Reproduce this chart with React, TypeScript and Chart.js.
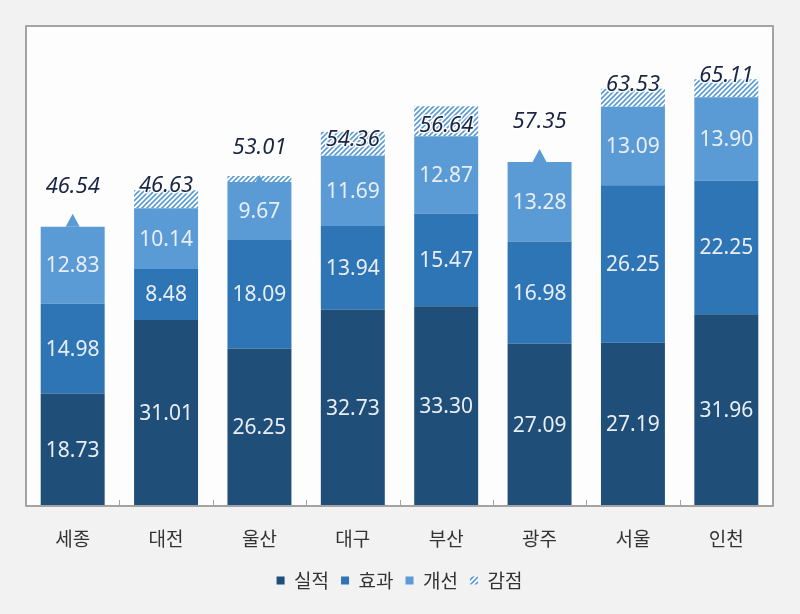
import React, { useEffect, useRef } from 'react';
import { Chart, registerables } from 'chart.js';

Chart.register(...registerables);

const categories = ['세종', '대전', '울산', '대구', '부산', '광주', '서울', '인천'];
const seriesNames = ['실적', '효과', '개선', '감점'];
const actual = [18.73, 31.01, 26.25, 32.73, 33.3, 27.09, 27.19, 31.96];
const effect = [14.98, 8.48, 18.09, 13.94, 15.47, 16.98, 26.25, 22.25];
const improve = [12.83, 10.14, 9.67, 11.69, 12.87, 13.28, 13.09, 13.9];
const deduction = [0, 3.0, 1.0, 4.0, 5.0, 0, 3.0, 3.0];
const totals = [46.54, 46.63, 53.01, 54.36, 56.64, 57.35, 63.53, 65.11];

const COLORS = ['#1f4e79', '#2e75b6', '#5b9bd5'];

function makeHatch(): CanvasPattern | string {
  const s = 5;
  const c = document.createElement('canvas');
  c.width = s;
  c.height = s;
  const g = c.getContext('2d');
  if (!g) return '#5b9bd5';
  g.fillStyle = '#ffffff';
  g.fillRect(0, 0, s, s);
  g.strokeStyle = '#5b9bd5';
  g.lineWidth = 1.6;
  g.beginPath();
  g.moveTo(-1, s + 1);
  g.lineTo(s + 1, -1);
  g.moveTo(-1, 1);
  g.lineTo(1, -1);
  g.moveTo(s - 1, s + 1);
  g.lineTo(s + 1, s - 1);
  g.stroke();
  return g.createPattern(c, 'repeat') || '#5b9bd5';
}

const overlay = {
  id: 'overlay',
  beforeDatasetsDraw(chart: any) {
    const { ctx, chartArea: a } = chart;
    ctx.save();
    ctx.fillStyle = '#fdfdfd';
    ctx.fillRect(a.left, a.top, a.right - a.left, a.bottom - a.top);
    ctx.restore();
  },
  afterDatasetsDraw(chart: any) {
    const { ctx, chartArea: a } = chart;
    const y = chart.scales.y;
    const meta0 = chart.getDatasetMeta(0);
    ctx.save();
    // triangles
    ctx.fillStyle = '#5b9bd5';
    totals.forEach((t, i) => {
      const el = meta0.data[i];
      const py = y.getPixelForValue(t);
      ctx.beginPath();
      ctx.moveTo(el.x - 7, py);
      ctx.lineTo(el.x, py - 13);
      ctx.lineTo(el.x + 7, py);
      ctx.closePath();
      ctx.fill();
    });
    // segment labels
    ctx.font = '21px "Noto Sans", "DejaVu Sans", sans-serif';
    ctx.textAlign = 'center';
    ctx.textBaseline = 'middle';
    ctx.fillStyle = '#e9eef5';
    [0, 1, 2].forEach((di) => {
      const meta = chart.getDatasetMeta(di);
      const vals = chart.data.datasets[di].data as number[];
      meta.data.forEach((el: any, i: number) => {
        const cy = (el.y + el.base) / 2;
        ctx.fillText(vals[i].toFixed(2), el.x, cy + 1);
      });
    });
    // total labels
    ctx.font = 'italic 22px "Noto Sans", "DejaVu Sans", sans-serif';
    ctx.lineJoin = 'round';
    totals.forEach((t, i) => {
      const el = meta0.data[i];
      const py = y.getPixelForValue(t) - 40;
      ctx.strokeStyle = 'rgba(255,255,255,0.9)';
      ctx.lineWidth = 3;
      ctx.strokeText(t.toFixed(2), el.x, py);
      ctx.fillStyle = '#1a2744';
      ctx.fillText(t.toFixed(2), el.x, py);
    });
    // frame
    ctx.strokeStyle = '#a3a3a3';
    ctx.lineWidth = 2;
    ctx.strokeRect(a.left, a.top, a.right - a.left, a.bottom - a.top);
    // tick marks
    ctx.lineWidth = 1;
    ctx.strokeStyle = '#a3a3a3';
    const n = categories.length;
    const w = (a.right - a.left) / n;
    for (let i = 1; i < n; i++) {
      const x = Math.round(a.left + i * w) + 0.5;
      ctx.beginPath();
      ctx.moveTo(x, a.bottom);
      ctx.lineTo(x, a.bottom - 6);
      ctx.stroke();
    }
    ctx.restore();
  },
};

export default function App() {
  const ref = useRef<HTMLCanvasElement | null>(null);
  useEffect(() => {
    document.body.style.margin = '0';
    document.body.style.background = '#f2f2f2';
    if (!ref.current) return;
    const hatch = makeHatch();
    const chart = new Chart(ref.current, {
      type: 'bar',
      data: {
        labels: categories,
        datasets: [
          { label: seriesNames[0], data: actual, backgroundColor: COLORS[0] },
          { label: seriesNames[1], data: effect, backgroundColor: COLORS[1] },
          { label: seriesNames[2], data: improve, backgroundColor: COLORS[2] },
          { label: seriesNames[3], data: deduction, backgroundColor: hatch as any },
        ].map((d) => ({ ...d, borderWidth: 0, barPercentage: 0.685, categoryPercentage: 1 })),
      },
      options: {
        responsive: false,
        animation: false,
        devicePixelRatio: 1,
        layout: { padding: { left: 26, right: 27, top: 26, bottom: 14 } },
        plugins: {
          tooltip: { enabled: false },
          legend: {
            position: 'bottom',
            labels: {
              boxWidth: 8,
              boxHeight: 8,
              padding: 12,
              color: '#333333',
              font: { family: '"Noto Sans CJK KR", sans-serif', size: 19 },
            },
          },
        },
        scales: {
          x: {
            stacked: true,
            grid: { display: false },
            border: { display: false },
            ticks: {
              color: '#333333',
              padding: 13,
              font: { family: '"Noto Sans CJK KR", sans-serif', size: 19 },
            },
            afterFit: (s: any) => {
              s.height = 53;
            },
          },
          y: { stacked: true, display: false, min: 0, max: 80 },
        },
      },
      plugins: [overlay],
    });
    return () => chart.destroy();
  }, []);
  return (
    <div style={{ width: 800, height: 614, background: '#f2f2f2' }}>
      <canvas ref={ref} width={800} height={614} style={{ display: 'block', width: 800, height: 614 }} />
    </div>
  );
}
